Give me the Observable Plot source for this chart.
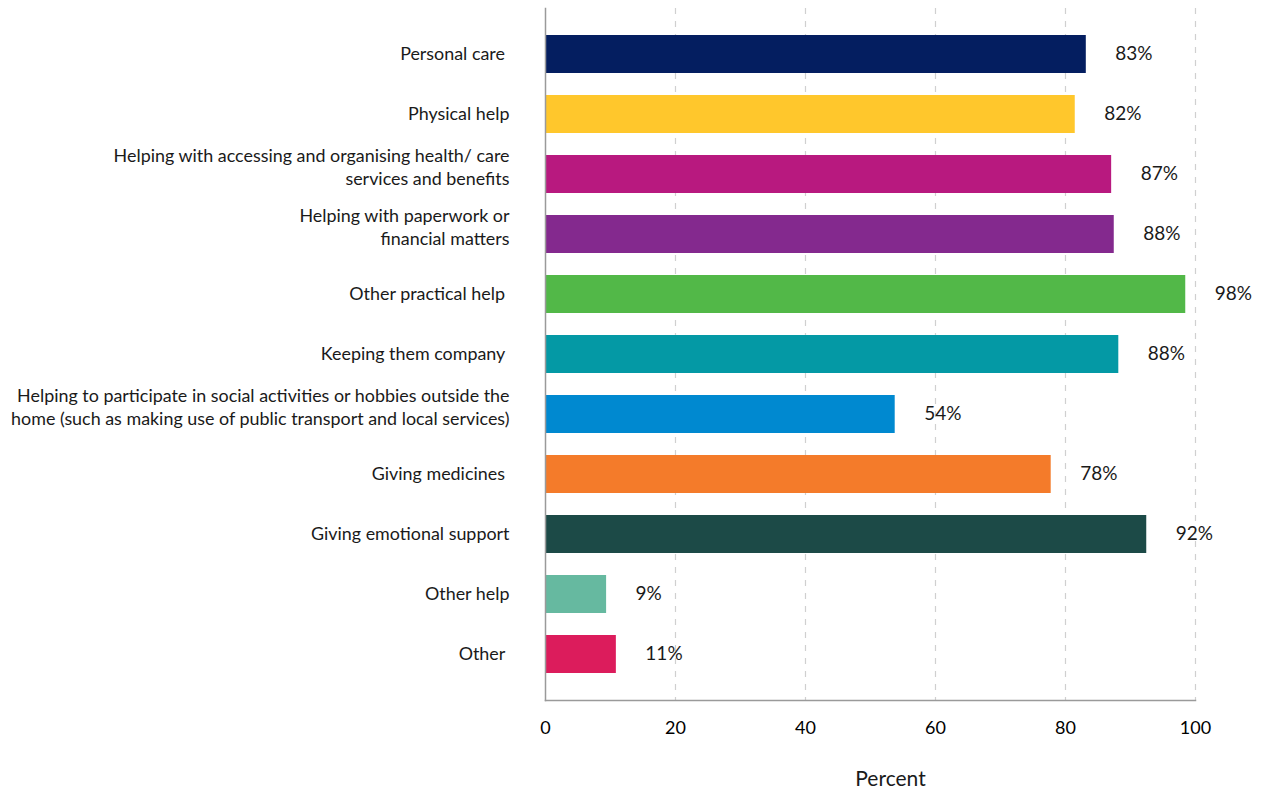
<!DOCTYPE html>
<html><head><meta charset="utf-8">
<script src="https://cdn.jsdelivr.net/npm/d3@7"></script>
<script src="https://cdn.jsdelivr.net/npm/@observablehq/plot@0.6"></script>
<style>body{margin:0;background:#fff;} svg{font-family:Lato,"Open Sans",sans-serif;}</style>
</head><body><div id="chart"></div>
<script>
const categories = [
  "Personal care\u00a0",
  "Physical help",
  "Helping with accessing and organising health/ care\nservices and benefits",
  "Helping with paperwork or\nfinancial matters",
  "Other practical help\u00a0",
  "Keeping them company\u00a0",
  "Helping to participate in social activities or hobbies outside the\nhome (such as making use of public transport and local services)",
  "Giving medicines\u00a0",
  "Giving emotional support",
  "Other help",
  "Other\u00a0"
];
const values = [83.2, 81.5, 87.1, 87.5, 98.5, 88.2, 53.8, 77.8, 92.5, 9.4, 10.9];
const valueLabels = ["83%","82%","87%","88%","98%","88%","54%","78%","92%","9%","11%"];
const colors = ["#041e60","#ffc72c","#b8197f","#84298e","#52b848","#0499a5","#0089d0","#f47b2a","#1c4a47","#66b9a0","#dc1c5c"];
const xTicks = [0,20,40,60,80,100];

const data = categories.map((c,i)=>({cat:c, v:values[i], lab:valueLabels[i], col:colors[i]}));
const single = data.filter(d=>!d.cat.includes("\n"));
const multi = data.filter(d=>d.cat.includes("\n"));

const chart = Plot.plot({
  width: 1262, height: 792,
  marginLeft: 545, marginRight: 67, marginTop: 8, marginBottom: 92,
  x: {domain:[0,100], ticks: xTicks, label: null},
  y: {domain: categories, paddingInner: 0.37, paddingOuter: 0.45, axis: null},
  marks: [
    Plot.ruleX(xTicks.slice(1), {stroke:"#d0d0d0", strokeDasharray:"6,7", strokeWidth:1.2}),
    Plot.barX(data, {y:"cat", x:"v", fill:"col"}),
    Plot.text(data, {y:"cat", x:"v", text:"lab", textAnchor:"start", dx:29, dy:-1, fontSize:19, fill:"#1a1a1a"}),
    Plot.text(single, {y:"cat", text:"cat", frameAnchor:"left", textAnchor:"end", dx:-36, dy:0, fontSize:17.9, fill:"#1a1a1a"}),
    Plot.text(multi, {y:"cat", text:"cat", frameAnchor:"left", textAnchor:"end", dx:-36, dy:-8, fontSize:17.9, lineHeight:1.29, fill:"#1a1a1a"}),
    Plot.frame({anchor:"left", stroke:"#9a9a9a", strokeWidth:1.5}),
    Plot.frame({anchor:"bottom", stroke:"#9a9a9a", strokeWidth:1.5}),
    Plot.axisX({ticks:xTicks, tickSize:0, tickPadding:21, fontSize:18, label:null}),
    Plot.text(["Percent"], {frameAnchor:"bottom", dx:20, dy:85, text:d=>d, fontSize:21, fill:"#1a1a1a"})
  ]
});
document.getElementById("chart").appendChild(chart);
</script></body></html>
